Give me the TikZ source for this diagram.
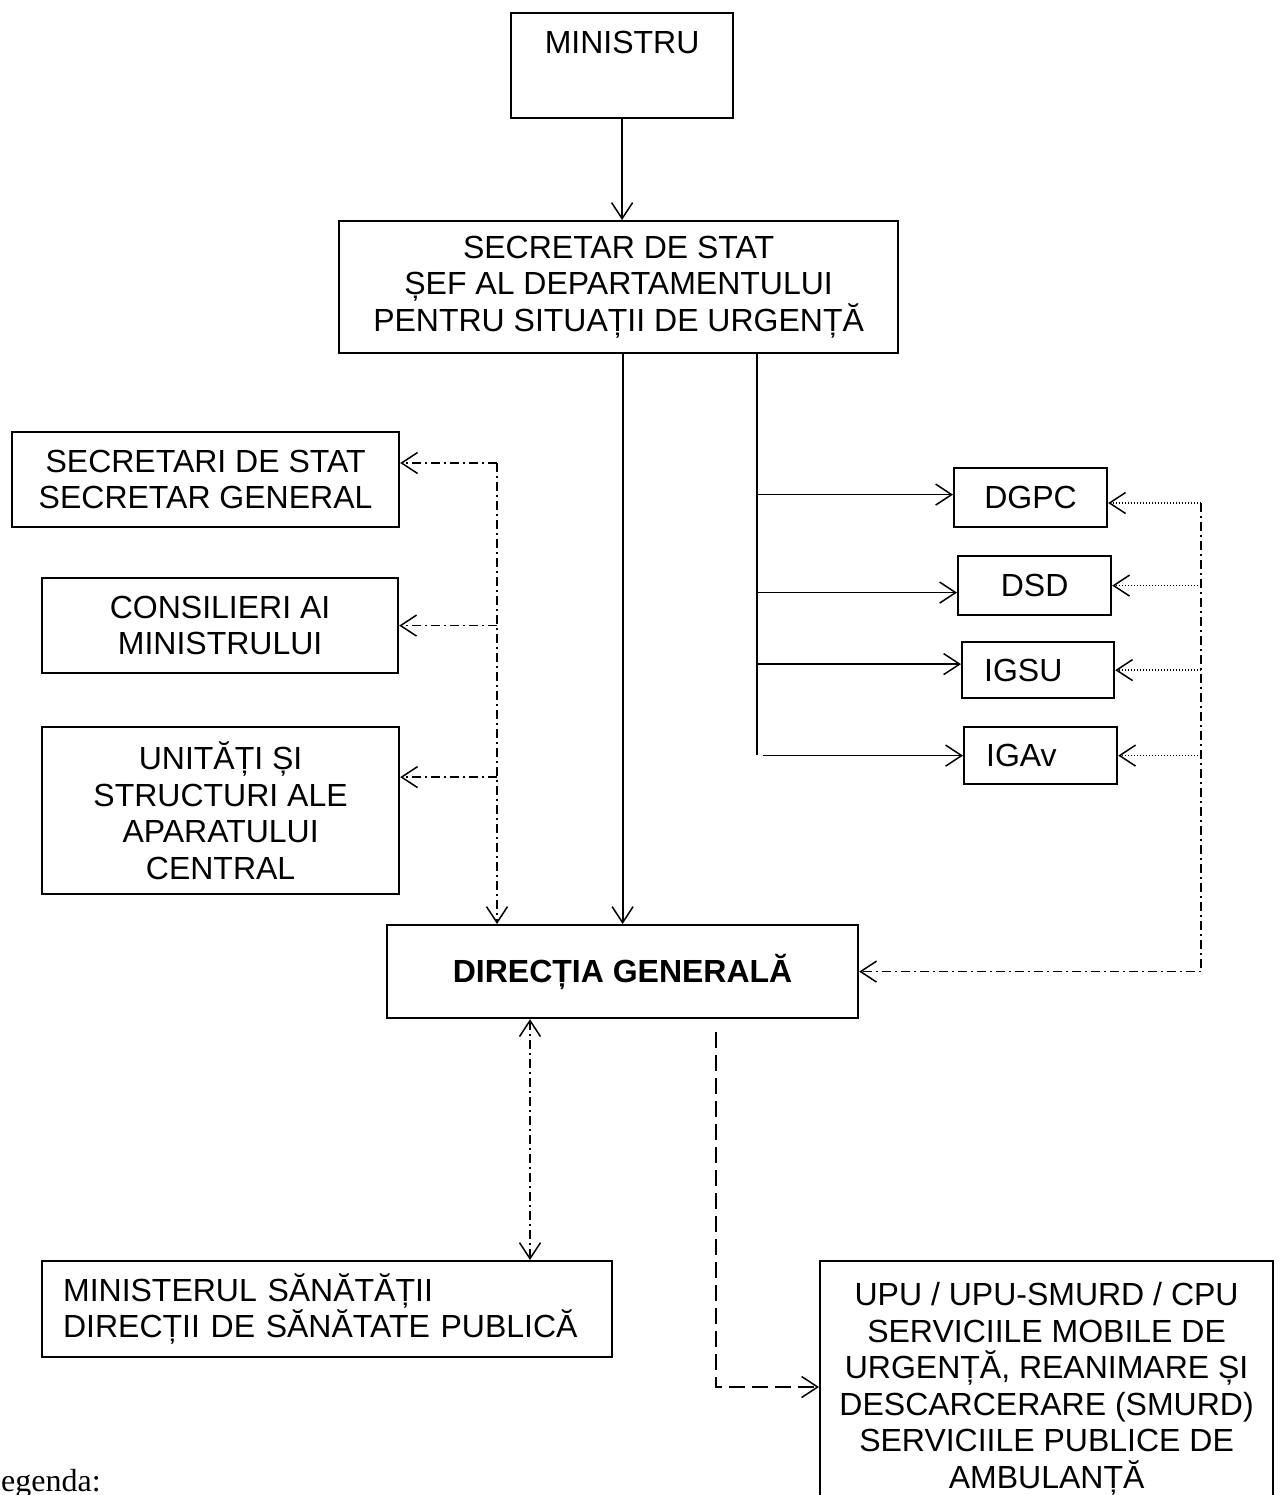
\documentclass[tikz,border=0pt]{standalone}
\usepackage{fontspec}
\setmainfont{Liberation Sans}
\newfontfamily\serifx{Liberation Serif}
\usetikzlibrary{arrows.meta,calc}
\newcommand{\fsz}{\fontsize{32}{36.5}\selectfont}
\tikzset{
  box/.style={draw, line width=2.2pt, inner sep=0pt, align=center, anchor=north west, font=\fsz},
  lbox/.style={box, align=left, inner xsep=#1},
  solidln/.style={line width=2pt},
  branch/.style={line width=1.6pt},
  ddash/.style={line width=1.5pt, dash pattern=on 9pt off 4pt on 2pt off 4pt},
  dotln/.style={line width=1.5pt, dash pattern=on 1.5pt off 1.5pt},
  dashln/.style={line width=2.2pt, dash pattern=on 16pt off 7pt},
}
\begin{document}
\begin{tikzpicture}[x=1pt, y=-1pt,
  >={Straight Barb[length=16pt, width=21pt, line width=1.5pt]}]
\useasboundingbox (0,0) rectangle (1279,1495);
\clip (0,0) rectangle (1279,1495);

% boxes
\node[box, minimum width=222pt, minimum height=105pt] (min) at (510,12) {MINISTRU\\[10pt] ~};
\node[box, minimum width=559pt, minimum height=132pt] (sec) at (338,220)
  {SECRETAR DE STAT\\ȘEF AL DEPARTAMENTULUI\\PENTRU SITUAȚII DE URGENȚĂ};
\node[box, minimum width=153pt, minimum height=59pt] (dgpc) at (953,467) {DGPC};
\node[box, minimum width=153pt, minimum height=59pt] (dsd) at (957,555) {DSD};
\node[lbox=22pt, text width=108pt, minimum width=152pt, minimum height=56pt] (igsu) at (961,641) {IGSU};
\node[lbox=22pt, text width=109pt, minimum width=153pt, minimum height=57pt] (igav) at (963,726) {IGAv};
\node[box, minimum width=387pt, minimum height=95pt] (secs) at (11,431)
  {SECRETARI DE STAT\\SECRETAR GENERAL};
\node[box, minimum width=356pt, minimum height=95pt] (cons) at (41,577)
  {CONSILIERI AI\\MINISTRULUI};
\node[box, minimum width=357pt, minimum height=167pt] (unit) at (41,726)
  {UNITĂȚI ȘI\\STRUCTURI ALE\\APARATULUI\\CENTRAL};
\node[box, minimum width=471pt, minimum height=93pt, font=\fsz\bfseries] (dir) at (386,924)
  {DIRECȚIA GENERALĂ};
\node[lbox=21pt, text width=528pt, minimum width=570pt, minimum height=96pt] (ms) at (41,1260)
  {MINISTERUL SĂNĂTĂȚII\\DIRECȚII DE SĂNĂTATE PUBLICĂ};
\node[box, minimum width=453pt, minimum height=255pt] (upu) at (819,1260)
  {UPU / UPU-SMURD / CPU\\SERVICIILE MOBILE DE\\URGENȚĂ, REANIMARE ȘI\\DESCARCERARE (SMURD)\\SERVICIILE PUBLICE DE\\AMBULANȚĂ};

\node[anchor=base west, inner sep=0pt, font=\serifx\fontsize{32}{36}\selectfont] (leg) at (1,1491) {egenda:};

% main vertical connectors
\draw[solidln,->] (min.south) -- (min.south |- sec.north);
\draw[solidln,->] (sec.south -| dir.north) -- (dir.north);

% right bus
\coordinate (bustop) at (757,352);
\coordinate (busbot) at (757,755);
\draw[line width=2.2pt] (bustop) -- (busbot);
\coordinate (dgpcin) at ([yshift=3pt]dgpc.west);
\coordinate (dsdin) at ([yshift=-7pt]dsd.west);
\coordinate (igsuin) at ([yshift=6pt]igsu.west);
\coordinate (igavin) at (igav.west);
\draw[branch,->] (bustop |- dgpcin) -- (dgpcin);
\draw[branch,->] (bustop |- dsdin) -- (dsdin);
\draw[branch,->] (bustop |- igsuin) -- (igsuin);
\draw[branch,->] ($(busbot |- igavin)+(6,0)$) -- (igavin);

% right dash-dot collector
\coordinate (rtop) at (1201,503);
\draw[dotln,->] (rtop) -- (dgpc.east |- rtop);
\draw[dotln,->] (rtop |- dsd.east) -- (dsd.east);
\draw[dotln,->] (rtop |- igsu.east) -- (igsu.east);
\draw[dotln,->] (rtop |- igav.east) -- (igav.east);
\draw[ddash,->] (rtop) -- (rtop |- dir.east) -- (dir.east);

% left dash-dot collector
\coordinate (ltop) at (497,463);
\coordinate (unitin) at ([yshift=33.5pt]unit.east);
\draw[ddash,->] (ltop) -- (ltop -| secs.east);
\draw[ddash,->] (ltop |- cons.east) -- (cons.east);
\draw[ddash,->] (ltop |- unitin) -- (unitin);
\draw[ddash,->] (ltop) -- (ltop |- dir.north);

% bidirectional to ministry of health
\coordinate (bx) at (530,0);
\draw[ddash,<->] (dir.south -| bx) -- (ms.north -| bx);

% dashed to UPU
\coordinate (dstart) at (716,1032);
\coordinate (dend) at ([yshift=-127pt]upu.north west);
\draw[dashln,->] (dstart) |- (dend);
\end{tikzpicture}
\end{document}
